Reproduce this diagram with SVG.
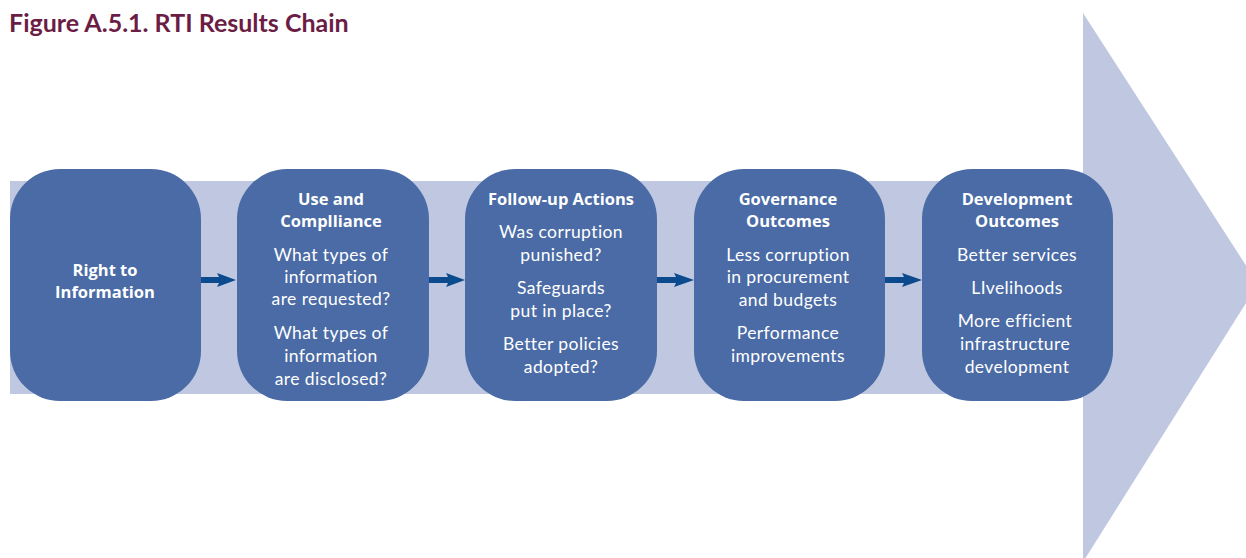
<svg xmlns="http://www.w3.org/2000/svg" width="1246" height="558" viewBox="0 0 1246 558">
<style>
.bg{fill:#c0c8e1}
.box{fill:#4a6ba5}
.h{font-family:"Open Sans",Lato,"Liberation Sans",sans-serif;font-weight:bold;font-size:16.5px;fill:#ffffff;text-anchor:middle}
.t{font-family:Lato,"Open Sans","Liberation Sans",sans-serif;font-size:17.5px;letter-spacing:0.4px;fill:#ffffff;text-anchor:middle}
.title{font-family:Lato,"Open Sans","Liberation Sans",sans-serif;font-weight:bold;font-size:25px;fill:#6b1d45}
.conn{fill:#0b4a8c}
</style>
<rect width="1246" height="558" fill="#ffffff"/>
<text class="title" x="9" y="32">Figure A.5.1. RTI Results Chain</text>
<g id="background">
<rect class="bg" x="10" y="181" width="1074" height="213"/>
<polygon class="bg" points="1083,13 1258,284 1083,562"/>
</g>
<g id="connectors">
<path class="conn" d="M200,277 H219 L217,273 L236,280 L217,287 L219,283 H200 Z"/>
<path class="conn" d="M429,277 H448 L446,273 L465,280 L446,287 L448,283 H429 Z"/>
<path class="conn" d="M657,277 H676 L674,273 L694,280 L674,287 L676,283 H657 Z"/>
<path class="conn" d="M885,277 H904 L902,273 L922,280 L902,287 L904,283 H885 Z"/>
</g>
<g id="node-right-to-information">
<rect class="box" x="10" y="169" width="191" height="232" rx="50"/>
<text class="h" x="105" y="276">Right to</text>
<text class="h" x="105" y="298">Information</text>
</g>
<g id="node-use-and-compliance">
<rect class="box" x="237" y="169" width="192" height="232" rx="50"/>
<text class="h" x="331" y="205">Use and</text>
<text class="h" x="331" y="227">Complliance</text>
<text class="t" x="331" y="261">What types of</text>
<text class="t" x="331" y="283">information</text>
<text class="t" x="331" y="305">are requested?</text>
<text class="t" x="331" y="339">What types of</text>
<text class="t" x="331" y="362">information</text>
<text class="t" x="331" y="385">are disclosed?</text>
</g>
<g id="node-follow-up-actions">
<rect class="box" x="465" y="169" width="192" height="232" rx="50"/>
<text class="h" x="561" y="205">Follow-up Actions</text>
<text class="t" x="561" y="238">Was corruption</text>
<text class="t" x="561" y="261">punished?</text>
<text class="t" x="561" y="294">Safeguards</text>
<text class="t" x="561" y="317">put in place?</text>
<text class="t" x="561" y="350">Better policies</text>
<text class="t" x="561" y="373">adopted?</text>
</g>
<g id="node-governance-outcomes">
<rect class="box" x="694" y="169" width="191" height="232" rx="50"/>
<text class="h" x="788" y="205">Governance</text>
<text class="h" x="788" y="227">Outcomes</text>
<text class="t" x="788" y="261">Less corruption</text>
<text class="t" x="788" y="283">in procurement</text>
<text class="t" x="788" y="306">and budgets</text>
<text class="t" x="788" y="339">Performance</text>
<text class="t" x="788" y="362">improvements</text>
</g>
<g id="node-development-outcomes">
<rect class="box" x="922" y="169" width="191" height="232" rx="50"/>
<text class="h" x="1017" y="205">Development</text>
<text class="h" x="1017" y="227">Outcomes</text>
<text class="t" x="1017" y="261">Better services</text>
<text class="t" x="1017" y="294">LIvelihoods</text>
<text class="t" x="1015" y="327">More efficient</text>
<text class="t" x="1015" y="350">infrastructure</text>
<text class="t" x="1017" y="373">development</text>
</g>
</svg>
